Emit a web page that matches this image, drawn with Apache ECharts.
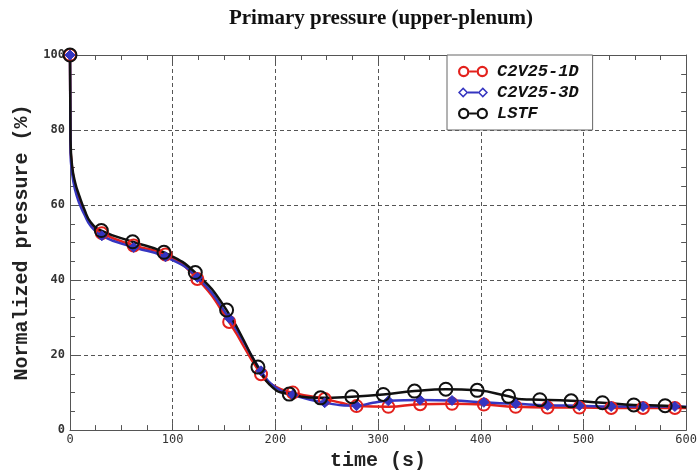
<!DOCTYPE html>
<html><head><meta charset="utf-8">
<script src="https://cdn.jsdelivr.net/npm/echarts@6/dist/echarts.min.js"></script>
<style>html,body{margin:0;padding:0;background:#fff}#c{width:700px;height:476px}</style>
</head><body><div id="c"></div>
<script>
const titleText = 'Primary pressure (upper-plenum)';
const xName = 'time (s)';
const yName = 'Normalized pressure (%)';
const seriesNames = ['C2V25-1D', 'C2V25-3D', 'LSTF'];

// C2V25-1D (red)
const red_t = [0, 0.5, 2, 5, 9, 14, 20, 31, 62, 93, 124, 155, 186, 200, 217, 248, 265, 279, 310, 341, 372, 403, 434, 465, 496, 527, 558, 589, 600];
const red_p = [100, 76, 70, 65, 61.5, 58, 55, 52.5, 49.2, 46.8, 40.3, 28.8, 14.9, 11.6, 10, 8.3, 7.2, 6.4, 6.2, 6.9, 7.0, 6.8, 6.2, 6.0, 6.0, 5.9, 5.9, 5.9, 5.9];
const red_marks = [0, 31, 62, 93, 124, 155, 186, 217, 248, 279, 310, 341, 372, 403, 434, 465, 496, 527, 558, 589];

// C2V25-3D (blue)
const blue_t = [0, 0.5, 2, 5, 9, 14, 20, 31, 62, 93, 124, 155, 186, 200, 217, 248, 279, 295, 310, 341, 372, 403, 434, 465, 496, 527, 558, 589, 600];
const blue_p = [100, 74, 68.5, 64, 60.5, 57.5, 54.5, 51.8, 48.7, 46.2, 40.7, 29.8, 15.8, 11.4, 9.4, 7.3, 6.5, 7.3, 7.8, 8.0, 7.9, 7.4, 7.0, 6.6, 6.5, 6.3, 6.3, 6.3, 6.2];
const blue_marks = [0, 31, 62, 93, 124, 155, 186, 217, 248, 279, 310, 341, 372, 403, 434, 465, 496, 527, 558, 589];

// LSTF (black)
const lstf_t = [0, 0.5, 2, 5, 9, 14, 20, 30.5, 61, 91.5, 122, 152.5, 183, 198, 213.5, 244, 274.5, 305, 335.5, 366, 396.5, 427, 440, 457.5, 488, 518.5, 549, 579.5, 600];
const lstf_p = [100, 77.5, 70.5, 66, 62.5, 58.8, 55.5, 53.2, 50.2, 47.4, 42, 32, 16.8, 11.2, 9.6, 8.6, 8.9, 9.5, 10.4, 10.9, 10.6, 9.0, 8.2, 8.1, 7.8, 7.3, 6.7, 6.5, 6.1];
const lstf_marks = [0, 30.5, 61, 91.5, 122, 152.5, 183, 213.5, 244, 274.5, 305, 335.5, 366, 396.5, 427, 457.5, 488, 518.5, 549, 579.5];

const chart = echarts.init(document.getElementById('c'), null, {renderer: 'canvas'});

const pairs = (ts, ps) => ts.map((t, i) => [t, ps[i]]);
const marked = (ts, ps, marks) => ts.map((t, i) => [t, ps[i]]).filter(d => marks.includes(d[0]));

const axisCol = '#555';
const tickFont = {fontFamily: 'DejaVu Sans Mono', fontSize: 12, color: '#333'};
const nameFont = {fontFamily: 'Liberation Mono', fontWeight: 'bold', fontSize: 20, color: '#222'};

function xAxis(pos, showLabel) {
  return {
    type: 'value', position: pos, min: 0, max: 600, interval: 100,
    name: showLabel ? xName : '', nameLocation: 'middle', nameGap: 19, nameTextStyle: nameFont,
    axisLine: {show: true, onZero: false, lineStyle: {color: axisCol, width: 1}},
    axisTick: {show: true, inside: true, length: 7, lineStyle: {color: axisCol}},
    minorTick: {show: true, splitNumber: 4, length: 5, lineStyle: {color: axisCol}},
    axisLabel: {show: showLabel, margin: 4, ...tickFont},
    splitLine: {show: showLabel, lineStyle: {color: axisCol, type: [4, 3], width: 1}}
  };
}
function yAxis(pos, showLabel) {
  return {
    type: 'value', position: pos, min: 0, max: 100, interval: 20,
    name: showLabel ? yName : '', nameLocation: 'middle', nameGap: 38, nameTextStyle: nameFont,
    axisLine: {show: true, onZero: false, lineStyle: {color: axisCol, width: 1}},
    axisTick: {show: true, inside: true, length: 7, lineStyle: {color: axisCol}},
    minorTick: {show: true, splitNumber: 4, length: 5, lineStyle: {color: axisCol}},
    axisLabel: {show: showLabel, margin: 5, ...tickFont, fontWeight: 'bold'},
    splitLine: {show: showLabel, lineStyle: {color: axisCol, type: [4, 3], width: 1}}
  };
}

const colors = ['#e3211c', '#3535c0', '#111111'];

const ringIcon = 'path://M0.5,6A5.5,5.5 0 1,1 11.5,6A5.5,5.5 0 1,1 0.5,6ZM2.6,6A3.4,3.4 0 1,0 9.4,6A3.4,3.4 0 1,0 2.6,6Z' +
  'M18.5,6A5.5,5.5 0 1,1 29.5,6A5.5,5.5 0 1,1 18.5,6ZM20.6,6A3.4,3.4 0 1,0 27.4,6A3.4,3.4 0 1,0 20.6,6Z' +
  'M11.5,5L18.5,5L18.5,7L11.5,7Z';
const diamondIcon = 'path://M0.5,6L5.5,1L10.5,6L5.5,11ZM2.5,6L5.5,9L8.5,6L5.5,3Z' +
  'M19.5,6L24.5,1L29.5,6L24.5,11ZM21.5,6L24.5,9L27.5,6L24.5,3Z' +
  'M10,5L20,5L20,7L10,7Z';

function lineSeries(name, data, color, z) {
  return {
    name: name, type: 'line', smooth: 0.5, z: z,
    data: data, symbol: 'none', showSymbol: false,
    lineStyle: {color: color, width: 2.5}, itemStyle: {color: color}
  };
}
function markSeries(name, data, color, sym, size, filled, z) {
  return {
    name: name, type: 'scatter', z: z, data: data, symbol: sym, symbolSize: size,
    itemStyle: {color: filled ? color : 'rgba(255,255,255,0)', borderColor: color, borderWidth: filled ? 1 : 2, opacity: 1}
  };
}

chart.setOption({
  animation: false,
  backgroundColor: '#fff',
  title: {
    text: titleText, left: 376, top: 3, textAlign: 'center',
    textStyle: {fontFamily: 'Liberation Serif', fontWeight: 'bold', fontSize: 21, color: '#111'}
  },
  grid: {left: 70, right: 12, top: 55, bottom: 43, containLabel: false},
  legend: {
    data: [
      {name: seriesNames[0], icon: ringIcon, itemStyle: {color: colors[0], borderWidth: 0}},
      {name: seriesNames[1], icon: diamondIcon, itemStyle: {color: colors[1], borderWidth: 0}},
      {name: seriesNames[2], icon: ringIcon, itemStyle: {color: colors[2], borderWidth: 0}}
    ],
    orient: 'vertical', left: 447, top: 55,
    padding: [8, 14, 8, 11], itemGap: 4, itemWidth: 30, itemHeight: 12,
    backgroundColor: '#fff', borderColor: '#666', borderWidth: 1,
    textStyle: {fontFamily: 'Liberation Mono', fontStyle: 'italic', fontWeight: 'bold', fontSize: 17, color: '#111', padding: [0, 0, 0, 4]}
  },
  xAxis: [xAxis('bottom', true), xAxis('top', false)],
  yAxis: [yAxis('left', true), yAxis('right', false)],
  series: [
    lineSeries(seriesNames[0], pairs(red_t, red_p), colors[0], 2),
    lineSeries(seriesNames[1], pairs(blue_t, blue_p), colors[1], 3),
    lineSeries(seriesNames[2], pairs(lstf_t, lstf_p), colors[2], 4),
    markSeries(seriesNames[0], marked(red_t, red_p, red_marks), colors[0], 'circle', 12, false, 5),
    markSeries(seriesNames[1], marked(blue_t, blue_p, blue_marks), colors[1], 'diamond', 10, true, 6),
    markSeries(seriesNames[2], marked(lstf_t, lstf_p, lstf_marks), colors[2], 'circle', 13, false, 7)
  ]
});
</script></body></html>
